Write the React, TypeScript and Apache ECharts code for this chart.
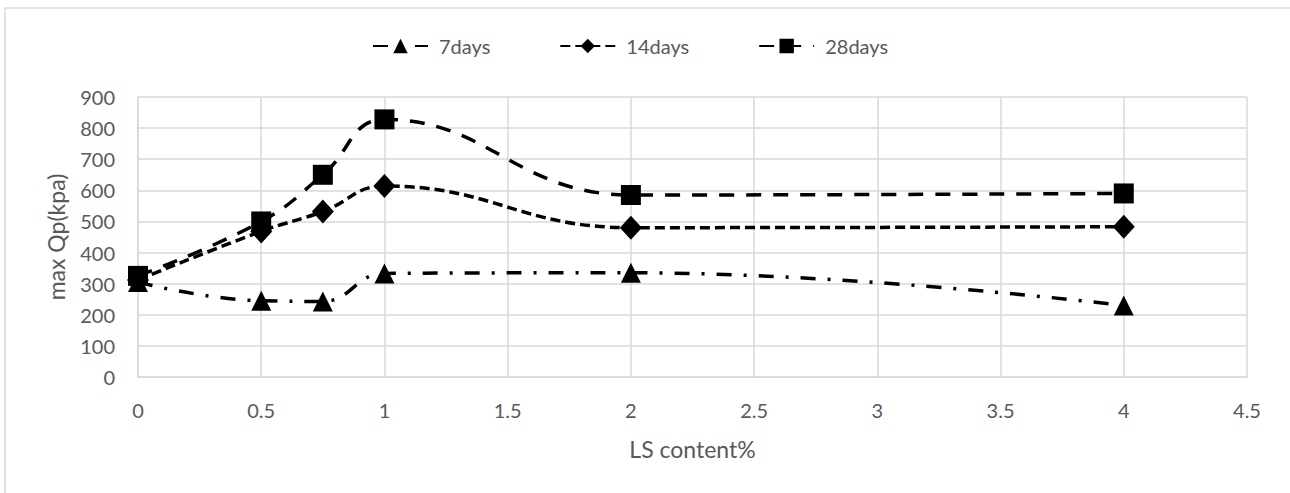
import React, { useEffect, useRef } from "react";
import * as echarts from "echarts";

const xValues = [0, 0.5, 0.75, 1, 2, 4];
const days7 = [305, 245, 243, 333, 335, 230];
const days14 = [312, 468, 532, 614, 480, 483];
const days28 = [325, 500, 650, 828, 585, 590];
const seriesNames = ["7days", "14days", "28days"];

const FONT = "Lato, 'Open Sans', sans-serif";
const TXT = "#595959";
const GRID = "#d9d9d9";

export default function App() {
  const ref = useRef<HTMLDivElement>(null);
  useEffect(() => {
    document.body.style.margin = "0";
    const chart = echarts.init(ref.current!, null, { renderer: "svg" });
    const pair = (ys: number[]) => xValues.map((x, i) => [x, ys[i]]);
    const base = {
      type: "line" as const,
      smooth: 0.45,
      symbolSize: 20,
      itemStyle: { color: "#000" },
    };
    chart.setOption({
      animation: false,
      backgroundColor: "#fff",
      textStyle: { fontFamily: FONT },
      legend: {
        top: 31,
        left: 367,
        itemWidth: 55,
        itemHeight: 18,
        itemGap: 69,
        textStyle: { color: TXT, fontSize: 20, fontFamily: FONT, padding: [0, 0, 0, 6] },
        data: seriesNames,
      },
      grid: { left: 138, right: 43, top: 97, bottom: 116 },
      xAxis: {
        type: "value",
        min: 0,
        max: 4.5,
        interval: 0.5,
        name: "LS content%",
        nameLocation: "middle",
        nameGap: 60,
        nameTextStyle: { color: TXT, fontSize: 23, fontFamily: FONT },
        axisLine: { show: true, lineStyle: { color: GRID, width: 1.5 } },
        axisTick: { show: false },
        axisLabel: { color: TXT, fontSize: 20, margin: 23, fontFamily: FONT },
        splitLine: { show: true, lineStyle: { color: GRID, width: 1.5 } },
      },
      yAxis: {
        type: "value",
        min: 0,
        max: 900,
        interval: 100,
        name: "max Qp(kpa)",
        nameLocation: "middle",
        nameGap: 71,
        nameRotate: 90,
        nameTextStyle: { color: TXT, fontSize: 23, fontFamily: FONT },
        axisLine: { show: true, lineStyle: { color: GRID, width: 1.5 } },
        axisTick: { show: false },
        axisLabel: { color: TXT, fontSize: 20, margin: 23, fontFamily: FONT },
        splitLine: { show: true, lineStyle: { color: GRID, width: 1.5 } },
      },
      graphic: [
        {
          type: "rect",
          shape: { x: 5, y: 8, width: 1300, height: 500 },
          style: { fill: "none", stroke: GRID, lineWidth: 1.5 },
          silent: true,
          z: -1,
        },
      ],
      series: [
        {
          ...base,
          name: seriesNames[0],
          symbol: "triangle",
          symbolSize: [20, 20],
          data: pair(days7),
          lineStyle: { color: "#000", width: 3.5, type: [15, 12, 3, 12] },
        },
        {
          ...base,
          name: seriesNames[1],
          symbol: "diamond",
          symbolSize: [22, 24],
          data: pair(days14),
          lineStyle: { color: "#000", width: 3.5, type: [10, 5] },
        },
        {
          ...base,
          name: seriesNames[2],
          symbol: "rect",
          symbolSize: [20, 20],
          data: pair(days28),
          lineStyle: { color: "#000", width: 3.5, type: [15, 12] },
        },
      ],
    });
    return () => chart.dispose();
  }, []);
  return <div ref={ref} style={{ width: 1290, height: 493 }} />;
}
